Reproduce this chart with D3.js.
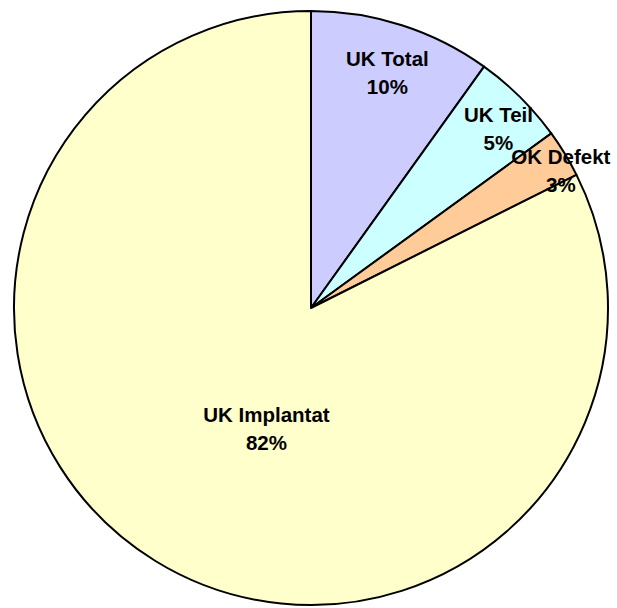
<!DOCTYPE html>
<html>
<head>
<meta charset="utf-8">
<script src="https://cdn.jsdelivr.net/npm/d3@7"></script>
<style>
  html, body { margin: 0; padding: 0; background: #fff; }
  svg { display: block; }
</style>
</head>
<body>
<svg id="chart" width="617" height="608"></svg>
<script>
// Werte (Anteile in %), im Uhrzeigersinn ab 12 Uhr
var kategorien = ['UK Total', 'UK Teil', 'OK Defekt', 'UK Implantat'];
var werte = [9.9, 5.1, 2.6, 82.4];
var farben = ['#CCCCFF', '#CCFFFF', '#FFCC99', '#FFFFCC'];

// Lage der Beschriftung: Anteil des Radius und Winkelversatz (Grad)
var labelRadius = [0.84, 0.88, 0.965, 0.425];
var labelWinkel = [0, 1, 2, -11];

var W = 617, H = 608;
var CX = 311, CY = 308, R = 297;

var svg = d3.select('#chart');
var g = svg.append('g').attr('transform', 'translate(' + CX + ',' + CY + ')');

var daten = kategorien.map(function(k, i){ return {name: k, wert: werte[i], ix: i}; });

var pie = d3.pie()
  .value(function(d){ return d.wert; })
  .sort(null);

var arc = d3.arc().innerRadius(0).outerRadius(R);

var boegen = pie(daten);

g.selectAll('path.slice').data(boegen).enter().append('path')
  .attr('class', 'slice')
  .attr('d', arc)
  .attr('fill', function(d){ return farben[d.data.ix]; })
  .attr('stroke', '#000')
  .attr('stroke-width', 2)
  .attr('stroke-linejoin', 'round');

var total = d3.sum(werte);

g.selectAll('g.label').data(boegen).enter().append('g')
  .attr('class', 'label')
  .each(function(d){
    var lg = d3.select(this);
    lg.append('text')
      .attr('y', -4)
      .text(d.data.name);
    lg.append('text')
      .attr('y', 24)
      .text(Math.round(d.data.wert / total * 100) + '%');
  })
  .attr('font-family', 'Arial, "Liberation Sans", sans-serif')
  .attr('font-weight', 'bold')
  .attr('font-size', 20.5)
  .attr('text-anchor', 'middle')
  .attr('fill', '#000')
  .attr('transform', function(d){
    var i = d.data.ix;
    var a = (d.startAngle + d.endAngle) / 2 + labelWinkel[i] * Math.PI / 180;
    var r = R * labelRadius[i];
    var x = r * Math.sin(a);
    var y = -r * Math.cos(a);
    return 'translate(' + x + ',' + y + ')';
  });
</script>
</body>
</html>
